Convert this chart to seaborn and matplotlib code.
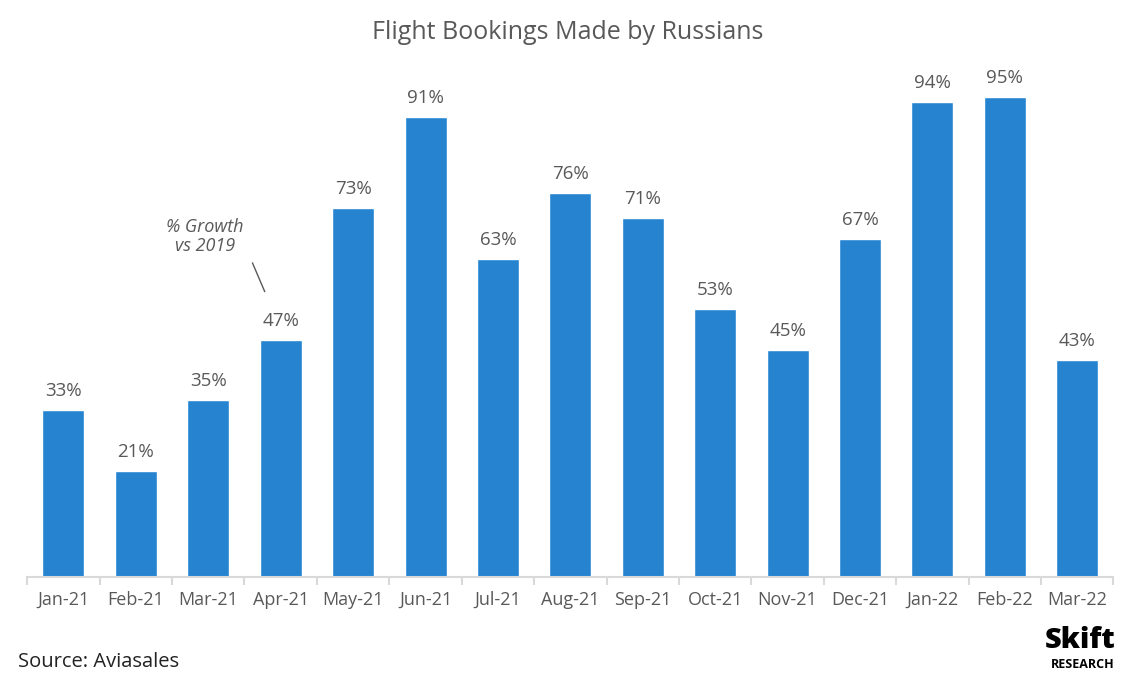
import numpy as np
import pandas as pd
import matplotlib.pyplot as plt
import seaborn as sns

# Dados
meses = ["Jan-21", "Feb-21", "Mar-21", "Apr-21", "May-21", "Jun-21", "Jul-21",
         "Aug-21", "Sep-21", "Oct-21", "Nov-21", "Dec-21", "Jan-22", "Feb-22", "Mar-22"]
crescimento = [33, 21, 35, 47, 73, 91, 63, 76, 71, 53, 45, 67, 94, 95, 43]

df = pd.DataFrame({"mes": meses, "crescimento": crescimento})

sns.set_theme(style="white")
plt.rcParams["font.family"] = ["Open Sans", "DejaVu Sans"]

cinza = "#595959"
azul = "#2683d0"

fig = plt.figure(figsize=(11.35, 6.86), dpi=100)
ax = fig.add_axes([0.024, 0.159, 0.957, 0.736])

sns.barplot(data=df, x="mes", y="crescimento", color=azul, width=0.58,
            saturation=1, ax=ax)

ax.set_ylim(0, 100)
ax.set_xlim(-0.5, len(meses) - 0.5)
ax.set_xlabel("")
ax.set_ylabel("")
ax.set_yticks([])

for i, v in enumerate(crescimento):
    ax.text(i, v + 2.0, f"{v}%", ha="center", va="bottom", fontsize=13.5, color=cinza)

# eixo x: marcas entre categorias
for s in ["top", "right", "left"]:
    ax.spines[s].set_visible(False)
ax.spines["bottom"].set_color("#d9d9d9")
ax.spines["bottom"].set_linewidth(1.5)
ax.tick_params(axis="x", which="major", length=0, labelsize=13,
               labelcolor=cinza, pad=10)
ax.set_xticks(np.arange(-0.5, len(meses)), minor=True)
ax.tick_params(axis="x", which="minor", length=6, width=1.5, color="#d9d9d9",
               bottom=True)

# anotação
ax.annotate("", xy=(3 - 0.22, 56.5), xytext=(3 - 0.39, 62.2),
            arrowprops=dict(arrowstyle="-", color=cinza, lw=1,
                            shrinkA=0, shrinkB=0))
ax.text(1.95, 67.4, "% Growth\nvs 2019", ha="center", va="center",
        fontsize=13, style="italic", color=cinza, linespacing=1.05)

fig.text(0.5, 0.952, "Flight Bookings Made by Russians", ha="center", va="center",
         fontsize=18, color=cinza)
fig.text(0.016, 0.035, "Source: Aviasales", ha="left", va="center",
         fontsize=14.5, color="#222222")
fig.text(0.952, 0.066, "Skift", ha="center", va="center", fontsize=21,
         fontweight="black", color="black")
fig.text(0.954, 0.031, "RESEARCH", ha="center", va="center", fontsize=9,
         fontweight="bold", color="black")

plt.savefig("out.png", dpi=100)
plt.close()
